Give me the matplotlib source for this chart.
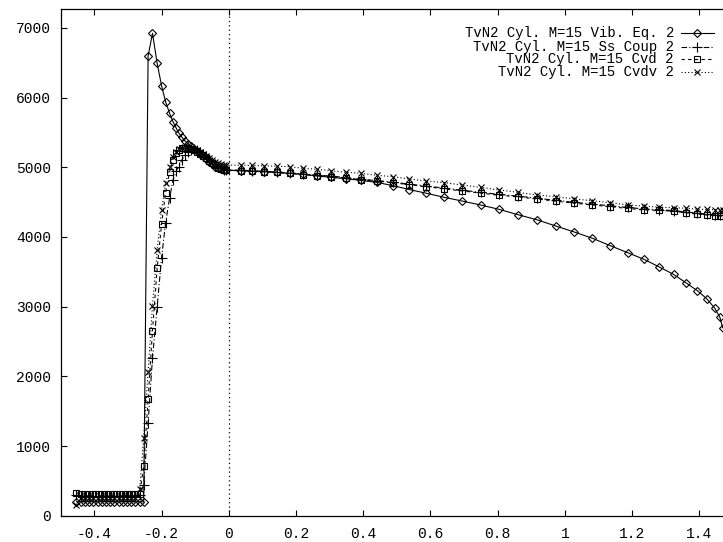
import matplotlib
matplotlib.use("Agg")
import matplotlib.pyplot as plt
from matplotlib.lines import Line2D

# shared x mesh (upstream part + shock layer + body)
x_up = [-0.453, -0.440, -0.428, -0.415, -0.403, -0.390, -0.378, -0.365, -0.353,
        -0.340, -0.328, -0.315, -0.303, -0.290, -0.278, -0.265, -0.253]
x_dn = [-0.240, -0.227, -0.213, -0.200, -0.188, -0.176, -0.166, -0.156, -0.148,
        -0.139, -0.131, -0.122, -0.113, -0.104, -0.095, -0.086, -0.077, -0.068,
        -0.059, -0.050, -0.041, -0.032, -0.023, -0.015, -0.007, 0.035, 0.069,
        0.104, 0.142, 0.182, 0.221, 0.263, 0.304, 0.348, 0.392, 0.440, 0.489,
        0.537, 0.588, 0.641, 0.694, 0.749, 0.804, 0.860, 0.916, 0.973, 1.028,
        1.082, 1.135, 1.187, 1.235, 1.281, 1.323, 1.361, 1.394, 1.422, 1.446,
        1.461, 1.469]
x = x_up + x_dn

vib_eq = [200, 200, 200, 200, 200, 200, 200, 200, 200, 200, 200, 200, 200, 200, 200, 200, 200,
          6595, 6921, 6490, 6170, 5940, 5773, 5653, 5558, 5486, 5429, 5380, 5340, 5300, 5265,
          5230, 5195, 5160, 5120, 5080, 5045, 5010, 4985, 4970, 4962, 4958, 4950, 4942, 4935,
          4925, 4912, 4898, 4874, 4855, 4835, 4812, 4783, 4735, 4680, 4626, 4568, 4515, 4458,
          4396, 4319, 4247, 4156, 4070, 3980, 3874, 3773, 3679, 3568, 3463, 3339, 3228, 3113,
          2975, 2846, 2697]

ss_coup = [295, 285, 285, 285, 285, 285, 285, 285, 285, 285, 285, 285, 285, 285, 285, 300, 440,
           1330, 2260, 3000, 3700, 4200, 4560, 4816, 4950, 5010, 5110, 5170, 5215, 5245, 5255,
           5245, 5225, 5195, 5160, 5120, 5080, 5042, 5008, 4982, 4966, 4960, 4958, 4950, 4942,
           4932, 4918, 4902, 4888, 4872, 4852, 4830, 4808, 4786, 4757, 4730, 4700, 4670, 4640,
           4610, 4585, 4555, 4525, 4497, 4470, 4447, 4422, 4402, 4390, 4378, 4358, 4340, 4328,
           4318, 4312, 4310]

cvd = [330, 312, 312, 312, 312, 312, 312, 312, 312, 312, 312, 312, 312, 312, 312, 312, 713,
       1670, 2654, 3550, 4180, 4634, 4936, 5103, 5200, 5240, 5270, 5280, 5275, 5262, 5245,
       5222, 5195, 5165, 5130, 5095, 5060, 5025, 4995, 4972, 4960, 4955, 4950, 4942, 4935,
       4925, 4910, 4895, 4880, 4864, 4845, 4822, 4800, 4778, 4748, 4720, 4690, 4660, 4628,
       4598, 4575, 4545, 4512, 4484, 4458, 4434, 4408, 4388, 4380, 4368, 4345, 4328, 4315,
       4305, 4300, 4298]

cvdv = [160, 255, 260, 260, 260, 260, 260, 260, 260, 260, 260, 260, 260, 260, 260, 380, 1120,
        2066, 3009, 3812, 4386, 4769, 4999, 5150, 5225, 5260, 5280, 5290, 5288, 5278, 5262,
        5242, 5218, 5190, 5160, 5130, 5100, 5075, 5055, 5040, 5033, 5030, 5030, 5025, 5020,
        5014, 5007, 4984, 4970, 4950, 4927, 4913, 4884, 4864, 4831, 4802, 4778, 4745, 4712,
        4673, 4640, 4601, 4577, 4544, 4519, 4491, 4458, 4443, 4425, 4420, 4410, 4398, 4394,
        4390, 4388, 4386]

labels = ["TvN2 Cyl. M=15 Vib. Eq. 2", "TvN2 Cyl. M=15 Ss Coup 2",
          "TvN2 Cyl. M=15 Cvd 2", "TvN2 Cyl. M=15 Cvdv 2"]

styles = [
    dict(ls="-", marker="D", ms=4.2),
    dict(ls=(0, (5, 2, 1, 2)), marker="+", ms=6.5),
    dict(ls=(0, (3, 3)), marker="s", ms=5),
    dict(ls=(0, (1, 2)), marker="x", ms=5),
]

W, H = 723, 542
fig = plt.figure(figsize=(W / 100, H / 100), dpi=100)
# axes right edge (x=1.5) falls just outside the picture, like the original
ax = fig.add_axes([60.7 / W, (H - 515.7) / H, (733 - 60.7) / W, (515.7 - 9) / H])

mono = "Liberation Mono"
for yv, st in zip([vib_eq, ss_coup, cvd, cvdv], styles):
    ax.plot(x, yv, color="black", lw=0.8, ls=st["ls"], marker=st["marker"],
            ms=st["ms"], mfc="none", mec="black", mew=0.8, clip_on=True)

ax.axvline(0, color="black", lw=0.9, ls=(0, (1, 2.5)))

ax.set_xlim(-0.5, 1.5)
ax.set_ylim(0, 7270)
ax.set_xticks([-0.4, -0.2, 0, 0.2, 0.4, 0.6, 0.8, 1, 1.2, 1.4])
ax.set_xticklabels(["-0.4", "-0.2", "0", "0.2", "0.4", "0.6", "0.8", "1", "1.2", "1.4"])
ax.set_yticks([0, 1000, 2000, 3000, 4000, 5000, 6000, 7000])
ax.tick_params(direction="in", top=True, right=True, length=4.5, width=0.8,
               labelsize=10.5, colors="black")
ax.tick_params(axis="x", pad=8)
ax.tick_params(axis="y", pad=7)
for t in ax.get_xticklabels() + ax.get_yticklabels():
    t.set_family(mono)
for s in ax.spines.values():
    s.set_linewidth(0.9)

# key in the top right corner, text right-aligned with sample on its right
rows = [33.3, 46.5, 59.3, 72.0]
for lab, st, py in zip(labels, styles, rows):
    yf = 1 - py / H
    fig.text(674 / W, yf, lab, ha="right", va="center", family=mono, fontsize=10)
    ln = Line2D([681 / W, 697 / W, 714 / W], [yf, yf, yf], transform=fig.transFigure,
                color="black", lw=0.8, ls=st["ls"], marker=st["marker"], ms=st["ms"],
                mfc="none", mec="black", mew=0.8, markevery=[1])
    fig.add_artist(ln)

fig.savefig("out.png", dpi=100)
